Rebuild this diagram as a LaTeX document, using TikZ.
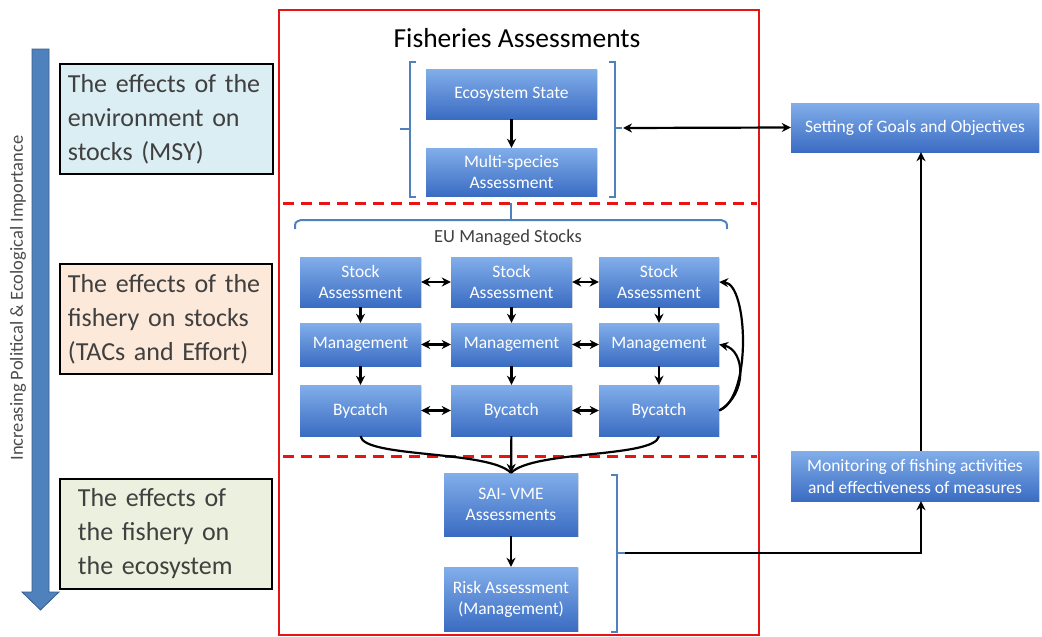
\documentclass[tikz,border=0pt]{standalone}
\usepackage{fontspec}
\setmainfont{Carlito}
\usetikzlibrary{arrows.meta,shadows,calc}
\definecolor{boxtop}{RGB}{130,174,234}
\definecolor{boxbot}{RGB}{58,108,194}
\definecolor{brblue}{RGB}{79,129,189}
\definecolor{redc}{RGB}{232,20,20}
\definecolor{sbblue}{RGB}{219,238,244}
\definecolor{sborange}{RGB}{253,233,217}
\definecolor{sbgreen}{RGB}{235,241,222}
\definecolor{arrowblue}{RGB}{79,129,189}
\definecolor{arrowedge}{RGB}{56,93,138}
\definecolor{sidetext}{RGB}{64,64,64}
\begin{document}
\begin{tikzpicture}[x=1pt,y=-1pt,
  bluebox/.style={draw=none, top color=boxtop, bottom color=boxbot, text=white,
    font=\fontsize{17.5}{21}\selectfont, align=center, inner sep=2pt,
    drop shadow={opacity=0.25, shadow xshift=1.2pt, shadow yshift=-1.2pt}},
  sidebox/.style={draw=black, line width=1.8pt, anchor=north west, align=left,
    text=sidetext, font=\fontsize{26}{34}\selectfont, minimum height=110pt},
  conn/.style={line width=2.2pt, -{Stealth[length=9pt,width=9pt]}},
  biconn/.style={line width=2.2pt, {Stealth[length=9pt,width=9pt]}-{Stealth[length=9pt,width=9pt]}},
  plain/.style={line width=2.2pt},
  bracket/.style={draw=brblue, line width=2pt},
  redframe/.style={draw=redc, line width=2.6pt},
  reddash/.style={draw=redc, line width=3pt, dash pattern=on 11pt off 7pt}
]
\useasboundingbox (0,0) rectangle (1042,637);

% left arrow and caption
\fill[arrowblue, draw=arrowedge, line width=0.8pt]
  (32,49) -- (49,49) -- (49,592) -- (59,592) -- (40.5,610) -- (22,592) -- (32,592) -- cycle;
\node[rotate=90, font=\fontsize{18.5}{20}\selectfont, text=black!70] (vt) at (18,298)
  {Increasing Political \& Ecological Importance};

% side boxes
\node[sidebox, fill=sbblue, minimum width=213pt, text width=203pt, inner xsep=5pt] (side1) at (59,63)
  {\hspace*{3pt}The effects of the\\\hspace*{3pt}environment on\\\hspace*{3pt}stocks (MSY)};
\node[sidebox, fill=sborange, minimum width=212pt, text width=202pt, inner xsep=5pt] (side2) at (59,263)
  {\hspace*{3pt}The effects of the\\\hspace*{3pt}fishery on stocks\\\hspace*{3pt}(TACs and Effort)};
\node[sidebox, fill=sbgreen, minimum width=212pt, text width=202pt, inner xsep=5pt] (side3) at (59,478)
  {\hspace*{13pt}The effects of\\\hspace*{13pt}the fishery on\\\hspace*{13pt}the ecosystem};

% red frame and dashed separators
\draw[redframe] (279,10) rectangle (759,635);
\draw[reddash] (283,203) -- (757,203);
\draw[reddash] (283,456) -- (757,456);

\node[font=\fontsize{27.5}{30}\selectfont] (title) at (517,38) {Fisheries Assessments};

% top group
\node[bluebox, minimum width=171pt, minimum height=50pt] (eco) at (511.5,94) {Ecosystem State};
\node[bluebox, minimum width=171pt, minimum height=48pt] (multi) at (511.5,172) {Multi-species\\Assessment};
\draw[conn] (eco) -- (multi);

\draw[bracket] (416,62) -- (410,62) -- (410,197) -- (416,197);
\draw[bracket] (410,129) -- (400,129);
\draw[bracket] (609,62) -- (615,62) -- (615,197) -- (609,197);
\draw[bracket] (615,128) -- (622,128);
\coordinate (brT) at (623,128);

% EU brace
\draw[bracket] (295,229) .. controls (295,222) .. (301,220) -- (721,220) .. controls (727,222) .. (727,229);
\draw[bracket] (511,220) -- (511,203);
\node[font=\fontsize{18.5}{20}\selectfont, text=black!75] (eu) at (508,238) {EU Managed Stocks};

% grid
\foreach \c/\x/\w in {1/360.5/121, 2/511.5/121, 3/659/120}{
  \node[bluebox, minimum width=\w pt, minimum height=50pt] (s\c) at (\x,282) {Stock\\Assessment};
  \node[bluebox, minimum width=\w pt, minimum height=43pt] (m\c) at (\x,344.5) {Management};
  \node[bluebox, minimum width=\w pt, minimum height=51pt] (b\c) at (\x,410.5) {Bycatch};
  \draw[conn] (s\c) -- (m\c);
  \draw[conn] (m\c) -- (b\c);
}
\foreach \r in {s,m,b}{
  \draw[biconn] (\r1) -- (\r2);
  \draw[biconn] (\r2) -- (\r3);
}
\draw[conn] (b3.east) .. controls (752,398) and (748,284) .. (s3.east);
\draw[conn] (b3.east) .. controls (748,394) and (745,350) .. (m3.east);

% lower group
\node[bluebox, minimum width=134pt, minimum height=63pt] (sai) at (511,504.5) {SAI- VME\\Assessments};
\node[bluebox, minimum width=134pt, minimum height=64pt] (risk) at (511,599) {Risk Assessment\\(Management)};
\draw[plain] (b1.south) .. controls (364,458) and (488,450) .. (sai.north);
\draw[plain] (b3.south) .. controls (655,458) and (534,450) .. (sai.north);
\draw[conn] (b2) -- (sai);
\draw[conn] (sai) -- (risk);

\draw[bracket] (611,475) -- (617,475) -- (617,632) -- (611,632);
\draw[bracket] (617,553) -- (625,553);
\coordinate (brB) at (625,553);

% right side
\node[bluebox, minimum width=248pt, minimum height=49pt] (goal) at (915,127.5) {Setting of Goals and Objectives};
\node[bluebox, minimum width=248pt, minimum height=50pt, font=\fontsize{17.5}{22}\selectfont] (mon) at (915,476)
  {Monitoring of fishing activities\\and effectiveness of measures};
\draw[biconn] (brT) -- (goal.west);
\draw[conn] ([xshift=6pt]mon.north) -- ([xshift=6pt]goal.south);
\draw[conn] (brB) -| ([xshift=6pt]mon.south);
\end{tikzpicture}
\end{document}
